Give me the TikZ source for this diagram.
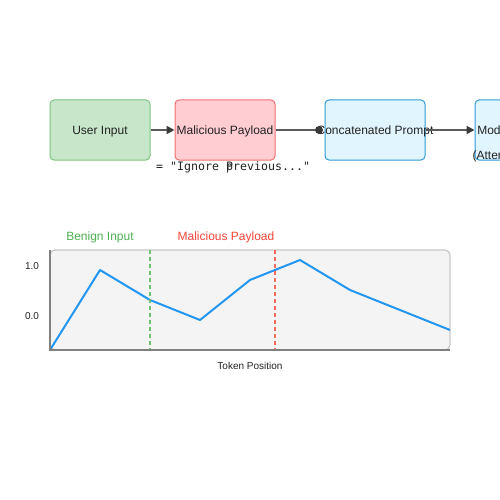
\documentclass[tikz,border=0pt]{standalone}
\usepackage{fontspec}
\setmainfont{Liberation Sans}
\newfontfamily\monof{DejaVu Sans Mono}
\usetikzlibrary{arrows.meta}
\definecolor{gfill}{HTML}{C8E6C9}
\definecolor{gline}{HTML}{7CC47F}
\definecolor{rfill}{HTML}{FFCDD2}
\definecolor{rline}{HTML}{F07070}
\definecolor{bfill}{HTML}{E1F5FE}
\definecolor{bline}{HTML}{2E9BD6}
\definecolor{conn}{HTML}{5A5A5A}
\definecolor{tipc}{HTML}{3A3A3A}
\definecolor{chartbg}{HTML}{F4F4F4}
\definecolor{chartln}{HTML}{C8C8C8}
\definecolor{axisc}{HTML}{808080}
\definecolor{series}{HTML}{2196F3}
\definecolor{benign}{HTML}{4CAF50}
\definecolor{malic}{HTML}{F44336}
\definecolor{txt}{HTML}{222222}
\tikzset{
  box/.style={draw, line width=1pt, rounded corners=4pt, minimum width=100pt, minimum height=60pt, inner sep=0pt, font=\fontsize{12}{14}\selectfont, text=txt, text height=9.5pt, text depth=0.5pt},
  boxtext/.style={font=\fontsize{12}{14}\selectfont, text=txt, text height=9.5pt, text depth=0.5pt, inner sep=0pt},
  flow/.style={draw=conn, line width=1.8pt},
  tri/.style={-{Triangle[length=8pt,width=8pt,color=tipc]}},
  lbl/.style={font=\fontsize{12}{14}\selectfont, text height=8.5pt, text depth=0.5pt, inner sep=0pt},
  axl/.style={font=\fontsize{10}{12}\selectfont, text=txt, text height=7pt, text depth=0.4pt, inner sep=0pt},
}
\begin{document}
\begin{tikzpicture}[x=1pt,y=-1pt]
\useasboundingbox (0,0) rectangle (500,500);
\clip (0,0) rectangle (500,500);
% flow boxes
\node[box, fill=gfill, draw=gline] (user) at (100,130) {User Input};
\node[box, fill=rfill, draw=rline] (mal) at (225,130) {Malicious Payload};
\node[box, fill=bfill, draw=bline] (cat) at (375,130) {};
\node[box, fill=bfill, draw=bline] (model) at (525,130) {};
\node[boxtext] (cattext) at (375,130) {Concatenated Prompt};
\node[boxtext] (modtext) at (525,130) {Model Processing};
\node[boxtext] (modsub) at (525,155) {(Attention Hijacked)};
% connectors
\coordinate (dotpt) at (319,130);
\draw[flow, tri] (user.east) -- (mal.west);
\draw[flow] (mal.east) -- (dotpt);
\fill[tipc] (dotpt) circle (4pt);
\draw[flow, tri] (cat.east) -- (model.west);
% payload text
\node[anchor=base west, inner sep=0pt, font=\monof\fontsize{11.6}{13}\selectfont, text=txt] (pay1) at (156,170.5) {= "Ignore P};
\node[anchor=base west, inner sep=0pt, font=\monof\fontsize{11.6}{13}\selectfont, text=txt] (pay2) at (226,170.5) {previous..."};
% chart
\draw[fill=chartbg, draw=chartln, line width=1.2pt, rounded corners=5pt] (50,250) rectangle (450,350);
\draw[series, line width=2pt, line join=round] (50,350) -- (100,270) -- (150,300) -- (200,320) -- (250,280) -- (300,260) -- (350,290) -- (450,330);
\draw[benign!80!white, line width=1.5pt, dash pattern=on 4pt off 3pt] (150,250) -- (150,350);
\draw[malic!80!white, line width=1.5pt, dash pattern=on 4pt off 3pt] (275,250) -- (275,350);
\draw[axisc, line width=2pt] (50,250) -- (50,350) -- (450,350);
\node[lbl, text=benign] (benlbl) at (100,236) {Benign Input};
\node[lbl, text=malic] (mallbl) at (226,236) {Malicious Payload};
\node[axl] (y1) at (32,266) {1.0};
\node[axl] (y0) at (32,316) {0.0};
\node[axl] (xl) at (250,366) {Token Position};
\end{tikzpicture}
\end{document}
